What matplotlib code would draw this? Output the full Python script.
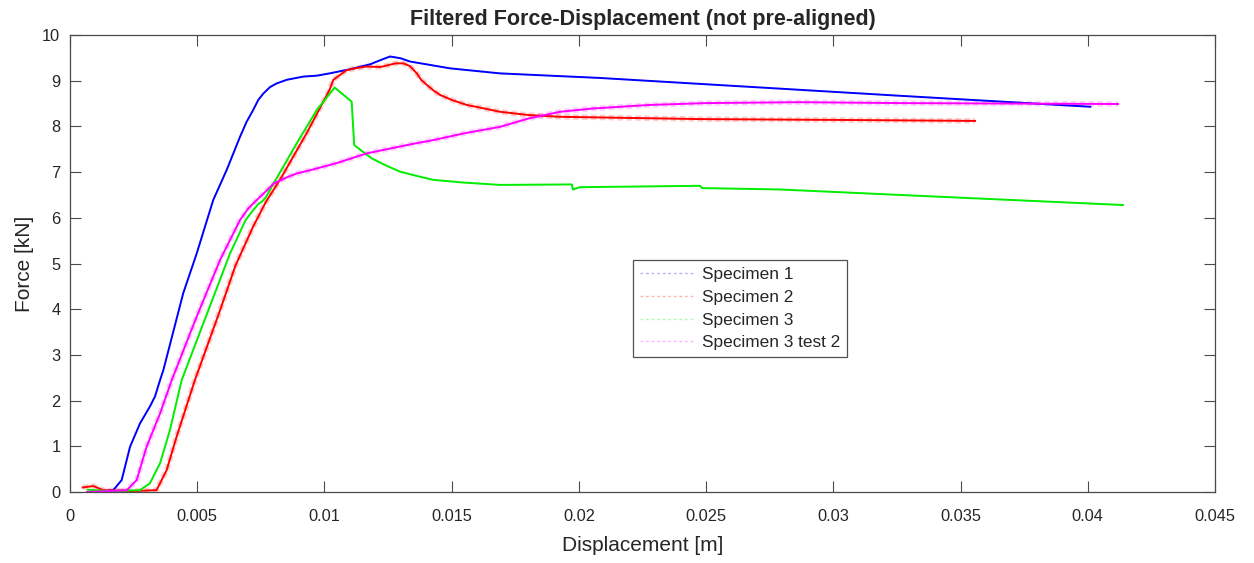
import matplotlib
matplotlib.use("Agg")
import matplotlib.pyplot as plt

# Displacement [m] / force [kN] samples for each specimen
spec1_disp = [0.0009, 0.0013, 0.0017, 0.00203, 0.00236, 0.00275, 0.00314, 0.00334,
              0.00354, 0.00367, 0.00445, 0.00498, 0.00563, 0.00616, 0.00668, 0.00694,
              0.0072, 0.0074, 0.0076, 0.00786, 0.00812, 0.00852, 0.00917, 0.0097,
              0.0102, 0.011, 0.0118, 0.0122, 0.01258, 0.013, 0.01336, 0.01494,
              0.0169, 0.02083, 0.02476, 0.03262, 0.0401]
spec1_force = [0.02, 0.02, 0.04, 0.26, 0.99, 1.50, 1.87, 2.09,
               2.45, 2.67, 4.35, 5.22, 6.39, 7.05, 7.77, 8.10,
               8.36, 8.58, 8.72, 8.86, 8.94, 9.02, 9.09, 9.11,
               9.16, 9.25, 9.36, 9.45, 9.53, 9.49, 9.42, 9.27,
               9.16, 9.06, 8.93, 8.67, 8.43]

spec2_disp = [0.0005, 0.00092, 0.00131, 0.0025, 0.0034, 0.0038, 0.00419, 0.00491,
              0.0059, 0.0065, 0.0072, 0.0077, 0.00825, 0.0093, 0.0102, 0.01035,
              0.01087, 0.0113, 0.01166, 0.0122, 0.0128, 0.0131, 0.01336, 0.01363,
              0.0138, 0.01402, 0.0143, 0.01454, 0.015, 0.01559, 0.0163, 0.0169,
              0.018, 0.01926, 0.02476, 0.03065, 0.03557]
spec2_force = [0.10, 0.13, 0.04, 0.02, 0.04, 0.48, 1.21, 2.45,
               3.98, 4.95, 5.81, 6.35, 6.83, 7.85, 8.80, 9.02,
               9.23, 9.28, 9.31, 9.30, 9.38, 9.38, 9.32, 9.16,
               9.02, 8.91, 8.78, 8.69, 8.58, 8.47, 8.39, 8.32,
               8.25, 8.21, 8.16, 8.14, 8.12]

spec3_disp = [0.0007, 0.0015, 0.00275, 0.00314, 0.00354, 0.00393, 0.00439, 0.00524,
              0.00629, 0.0069, 0.0072, 0.0074, 0.00753, 0.0077, 0.008, 0.00891,
              0.0097, 0.0104, 0.01107, 0.01117, 0.0115, 0.01186, 0.0124, 0.01297,
              0.0136, 0.01428, 0.0155, 0.0169, 0.01972, 0.01977, 0.02004, 0.02476,
              0.02484, 0.0279, 0.03262, 0.04138]
spec3_force = [0.05, 0.02, 0.04, 0.19, 0.63, 1.36, 2.45, 3.69,
               5.22, 5.95, 6.17, 6.30, 6.35, 6.45, 6.75, 7.63,
               8.36, 8.85, 8.54, 7.59, 7.45, 7.30, 7.15, 7.01,
               6.92, 6.83, 6.77, 6.72, 6.73, 6.62, 6.67, 6.70,
               6.65, 6.62, 6.50, 6.28]

spec3b_disp = [0.00066, 0.0015, 0.00223, 0.00262, 0.00301, 0.00354, 0.004, 0.00498,
               0.0059, 0.00668, 0.007, 0.00734, 0.0077, 0.008, 0.0085, 0.00891,
               0.0095, 0.0105, 0.01166, 0.0135, 0.01428, 0.0155, 0.0169, 0.018,
               0.01926, 0.0205, 0.0228, 0.025, 0.02869, 0.03262, 0.04119]
spec3b_force = [0.00, 0.02, 0.04, 0.26, 0.99, 1.72, 2.45, 3.84,
                5.08, 5.95, 6.20, 6.39, 6.58, 6.75, 6.88, 6.97,
                7.05, 7.20, 7.41, 7.62, 7.70, 7.85, 7.99, 8.17,
                8.32, 8.39, 8.47, 8.51, 8.53, 8.51, 8.49]

labels = ["Specimen 1", "Specimen 2", "Specimen 3", "Specimen 3 test 2"]
colors = ["#0000ff", "#ff0000", "#00ee00", "#ff00ff"]
series = [(spec1_disp, spec1_force), (spec2_disp, spec2_force),
          (spec3_disp, spec3_force), (spec3b_disp, spec3b_force)]
raw_widths = [1.0, 4.0, 1.0, 4.0]

x_ticks = [0, 0.005, 0.01, 0.015, 0.02, 0.025, 0.03, 0.035, 0.04, 0.045]
x_ticklabels = ["0", "0.005", "0.01", "0.015", "0.02", "0.025", "0.03", "0.035", "0.04", "0.045"]
y_ticks = list(range(0, 11))

plt.rcParams["font.family"] = ["Liberation Sans", "DejaVu Sans"]
axis_grey = "#4a4a4a"
text_grey = "#262626"

fig = plt.figure(figsize=(12.54, 5.63), dpi=100)
ax = fig.add_axes([70 / 1254, 1 - 492 / 563, 1145 / 1254, 457 / 563])

# raw (unfiltered) traces: faint dotted
for (xd, yd), c, lab, w in zip(series, colors, labels, raw_widths):
    ax.plot(xd, yd, linestyle=(0, (1, 0.6)), color=c, alpha=0.2, linewidth=w,
            label=lab, solid_capstyle="butt", dash_capstyle="butt")

# filtered traces: solid
for (xd, yd), c in zip(series, colors):
    ax.plot(xd, yd, linestyle="-", color=c, linewidth=1.4)

ax.set_xlim(0, 0.045)
ax.set_ylim(0, 10)
ax.set_xticks(x_ticks)
ax.set_xticklabels(x_ticklabels)
ax.set_yticks(y_ticks)

ax.tick_params(direction="in", length=8, width=0.8, colors=axis_grey,
               labelcolor=text_grey, labelsize=11.8, top=True, right=True)
ax.tick_params(axis="x", pad=12)
ax.tick_params(axis="y", pad=7)
for sp in ax.spines.values():
    sp.set_color(axis_grey)
    sp.set_linewidth(0.9)

ax.set_xlabel("Displacement [m]", fontsize=15, color=text_grey, labelpad=9)
ax.set_ylabel("Force [kN]", fontsize=15, color=text_grey, labelpad=6)
ax.set_title("Filtered Force-Displacement (not pre-aligned)", fontsize=15.5,
             fontweight="bold", color=text_grey, pad=7)

leg = ax.legend(loc="upper left", bbox_to_anchor=(0.4917, 0.5077), borderaxespad=0,
                fontsize=12.4, frameon=True, fancybox=False, handlelength=3.2,
                handletextpad=0.4, labelspacing=0.45, borderpad=0.4)
leg.get_frame().set_edgecolor(text_grey)
leg.get_frame().set_linewidth(0.9)
for hl in leg.get_lines():
    hl.set_linewidth(1.0)
    hl.set_linestyle((0, (2, 2)))
    hl.set_alpha(0.3)
for t in leg.get_texts():
    t.set_color(text_grey)

fig.savefig("out.png", dpi=100, facecolor="white")
